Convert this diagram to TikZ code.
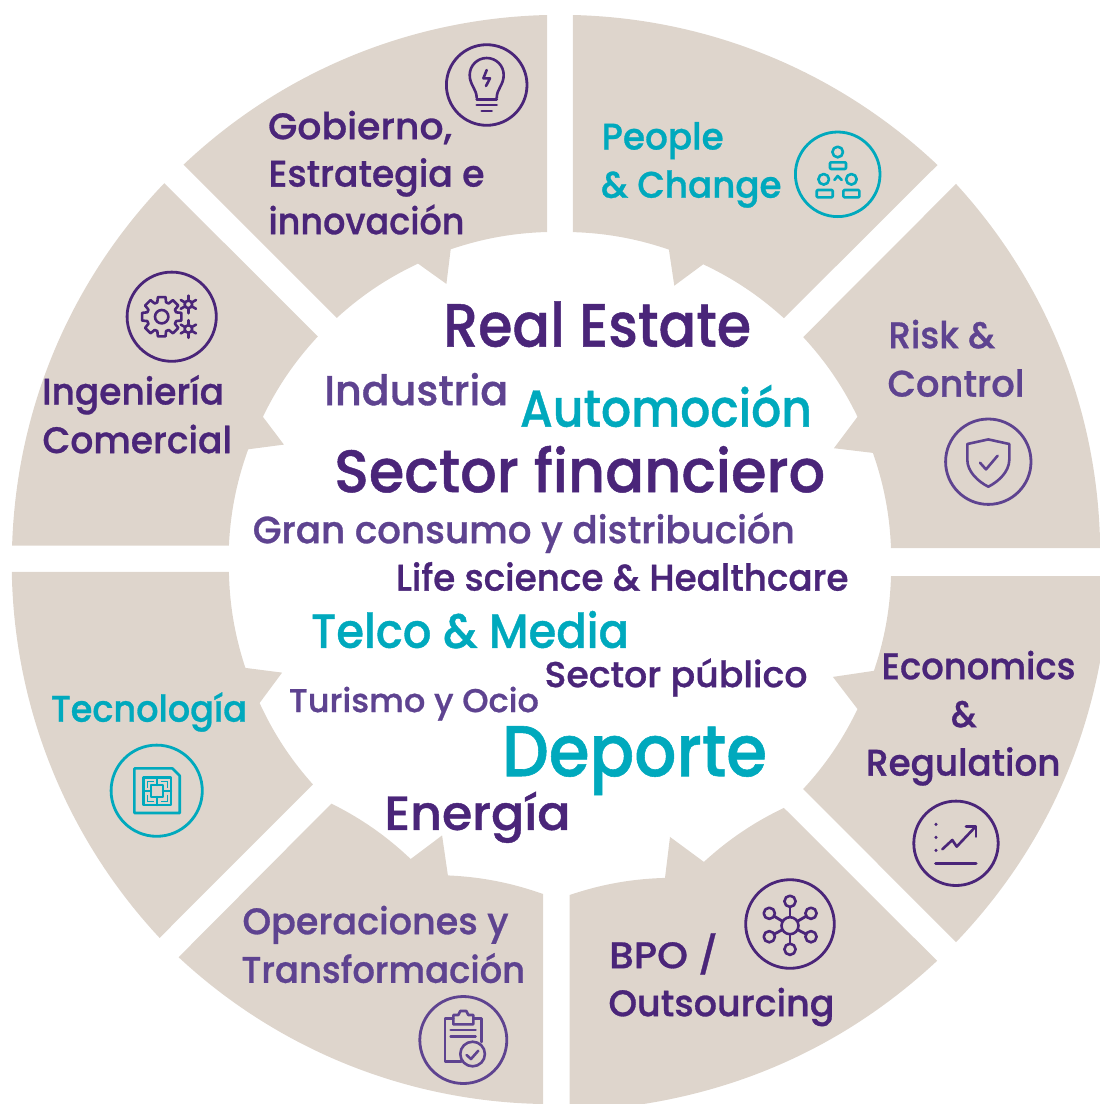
\documentclass[tikz,border=0pt]{standalone}
\usepackage{fontspec}
\setmainfont{Poppins Medium}[FakeBold=0.8]
\definecolor{dk}{HTML}{4A2579}
\definecolor{md}{HTML}{5E4390}
\definecolor{tl}{HTML}{00A9BD}
\definecolor{bg}{HTML}{DED5CC}
\newcommand{\fitw}[3]{\resizebox{\dimexpr#1pt+3pt\relax}{\height}{\fontsize{#2pt}{#2pt}\selectfont #3}}
\tikzset{
  seg/.style={fill=bg,draw=none},
  lbl/.style={anchor=base west,inner sep=0pt,outer sep=0pt,xshift=-1.5pt,yshift=-0.2pt},
  ring/.style={line width=2.8pt},
  ico/.style={line width=2.6pt,line join=round,line cap=round},
  oarc/.style={bend left=#1,looseness=.885},
  iarc/.style={bend right=#1,looseness=.885}
}
\begin{document}
\begin{tikzpicture}[x=1pt,y=-1pt]
\useasboundingbox (0,0) rectangle (1100,1104);
\clip (0,0) rectangle (1100,1104);
% segments
\path[seg] (183.6,164.6) to[oarc=21] (547,15) -- (547,232) to[iarc=8.5] (450.7,249.3) -- (446.4,283.9) -- (418,263.6) to[iarc=8.5] (336.8,317.9) -- cycle;
\path[seg] (12.1,545.7) to[oarc=21] (164.3,183.2) -- (317.9,336.4) to[iarc=8.5] (262.9,416.8) -- (283.9,444.6) -- (248.2,449.3) to[iarc=8.5] (228.9,545.7) -- cycle;
\path[seg] (159.6,937.9) to[oarc=21] (11.8,571.9) -- (228.9,571.9) to[iarc=8.5] (245.4,667.9) -- (282.1,672.6) -- (259.6,703) to[iarc=8.5] (312.9,784.4) -- cycle;
\path[seg] (543,1104) to[oarc=21] (178.6,957.2) -- (331.4,803.6) to[bend left=8.5,looseness=.885] (410.7,859) -- (442.1,835.4) -- (447.9,875.4) to[bend left=8.5,looseness=.885] (543,894) -- cycle;
\path[seg] (572.9,15) to[oarc=21] (937.5,165) -- (783.9,318.2) to[iarc=8.5] (703.2,264.3) -- (674.3,285.7) -- (668.9,249.6) to[iarc=8.5] (572.9,232.1) -- cycle;
\path[seg] (956,183.9) to[oarc=20.5] (1100,540) -- (1100,548.2) -- (891,548.2) to[iarc=8.5] (872.9,452.9) -- (833.9,448.2) -- (857.5,416.8) to[iarc=8.5] (803.2,337.1) -- cycle;
\path[seg] (1100,662) to[oarc=16.5] (956,942.2) -- (803.2,789) to[iarc=8.5] (857.5,709) -- (832.9,676.9) -- (873.9,670.8) to[iarc=8.5] (891,576.1) -- (1100,576.1) -- cycle;
\path[seg] (937.1,960.8) to[oarc=17] (643.6,1104) -- (569.6,1104) -- (569.6,895) to[bend left=8.5,looseness=.885] (665,877.9) -- (670,836.9) -- (703.9,861.9) to[bend left=8.5,looseness=.885] (783.9,807.9) -- cycle;
% segment labels
\node[lbl,text=dk] (g1) at (269.6,139) {\fitw{181}{37}{Gobierno,}};
\node[lbl,text=dk] (g2) at (270,186.4) {\fitw{213}{37}{Estrategia e}};
\node[lbl,text=dk] (g3) at (270,234) {\fitw{193}{37}{innovación}};
\node[lbl,text=dk] (i1) at (43.6,404.3) {\fitw{179}{37}{Ingeniería}};
\node[lbl,text=dk] (i2) at (44,452.9) {\fitw{186.5}{37}{Comercial}};
\node[lbl,text=tl] (t1) at (52.5,721.5) {\fitw{193}{37}{Tecnología}};
\node[lbl,text=md] (o1) at (244,934) {\fitw{263}{37}{Operaciones y}};
\node[lbl,text=md] (o2) at (243,982.6) {\fitw{280.6}{37}{Transformación}};
\node[lbl,text=tl] (p1) at (603.2,149.3) {\fitw{119}{37}{People}};
\node[lbl,text=tl] (p2) at (602.5,197.5) {\fitw{177.5}{37}{\& Change}};
\node[lbl,text=md] (r1) at (890,348) {\fitw{103.6}{37}{Risk \&}};
\node[lbl,text=md] (r2) at (889,396.4) {\fitw{134}{37}{Control}};
\node[lbl,text=dk] (e1) at (883,679) {\fitw{191}{37}{Economics}};
\node[lbl,text=dk] (e2) at (952.5,726.9) {\fitw{22.5}{37}{\&}};
\node[lbl,text=dk] (e3) at (867.5,775.4) {\fitw{191.5}{37}{Regulation}};
\node[lbl,text=dk] (b1) at (610.7,968) {\fitw{106}{37}{BPO /}};
\node[lbl,text=dk] (b2) at (610,1016) {\fitw{223}{37}{Outsourcing}};
% centre words
\node[lbl,text=dk] (c1) at (444.6,346.4) {\fitw{305}{61}{Real Estate}};
\node[lbl,text=md] (c2) at (325.7,405) {\fitw{181}{42}{Industria}};
\node[lbl,text=tl] (c3) at (521.4,426.5) {\fitw{289}{52}{Automoción}};
\node[lbl,text=dk] (c4) at (335.7,492) {\fitw{488}{60}{Sector financiero}};
\node[lbl,text=md] (c5) at (254.3,543) {\fitw{539}{38}{Gran consumo y distribución}};
\node[lbl,text=dk] (c6) at (397.5,590.4) {\fitw{449.5}{37}{Life science \& Healthcare}};
\node[lbl,text=tl] (c7) at (312.5,647.6) {\fitw{315}{48}{Telco \& Media}};
\node[lbl,text=dk] (c8) at (546,686.9) {\fitw{260}{36}{Sector público}};
\node[lbl,text=md] (c9) at (290.4,711.9) {\fitw{247}{33}{Turismo y Ocio}};
\node[lbl,text=tl] (c10) at (503.5,776) {\fitw{262}{72}{Deporte}};
\node[lbl,text=dk] (c11) at (386,829.7) {\fitw{183}{48}{Energía}};
% bulb
\begin{scope}[shift={(486.7,85)}]
\draw[ring,dk] (0,0) circle[radius=40.3];
\draw[ico,dk] (-10,13) .. controls (-10,4) and (-17,0) .. (-17,-10) .. controls (-17,-19.4) and (-9.4,-27) .. (0,-27) .. controls (9.4,-27) and (17,-19.4) .. (17,-10) .. controls (17,0) and (10,4) .. (10,13);
\draw[ico,dk] (-10,14.5) -- (10,14.5) (-10,20) -- (10,20) (-5,26) -- (5,26);
\draw[ico,dk] (0,-15) -- (-3.3,-6.7) -- (3.3,-6.7) -- (-0.7,1);
\end{scope}
% people
\begin{scope}[shift={(837.7,174.3)}]
\draw[ring,tl] (0,0) circle[radius=42.3];
\draw[ico,tl] (0,-22.3) circle[radius=5.3] (-14,5) circle[radius=5.3] (13.7,5) circle[radius=5.3];
\draw[ico,tl,rounded corners=1pt] (-7.7,-12) rectangle (8.3,-5.3) (-21,15.7) rectangle (-5,23) (5.7,15.7) rectangle (21.7,23);
\draw[ico,tl] (-3.3,5.7) -- (0,1.7) -- (4,5.7);
\end{scope}
% gears
\begin{scope}[shift={(171.7,316.7)}]
\draw[ring,dk] (0,0) circle[radius=44.6];
\begin{scope}[shift={(-10,0)}]
\draw[ico,dk] (-11:20) \foreach \a in {0,45,...,315} { -- (\a-11:20) -- (\a+11:20) -- (\a+17:15) -- (\a+28:15) } -- cycle;
\draw[ico,dk] (0,0) circle[radius=6.7];
\end{scope}
\foreach \cy in {-12.3,12.3} {
\begin{scope}[shift={(16.7,\cy)}]
\draw[ico,dk] (0,0) circle[radius=3.8];
\foreach \a in {0,60,...,300} \draw[ico,dk] (\a+30:3.8) -- (\a+30:8.8);
\end{scope}}
\end{scope}
% shield
\begin{scope}[shift={(988.3,461.7)}]
\draw[ring,md] (0,0) circle[radius=42.7];
\draw[ico,md] (0,-22.3) -- (21,-17.7) -- (21,-2) .. controls (21,10) and (10,20) .. (0,25) .. controls (-10,20) and (-21,10) .. (-21,-2) -- (-21,-17.7) -- cycle;
\draw[ico,md] (-8.3,1) -- (-2.3,7.7) -- (9.3,-6);
\end{scope}
% chip
\begin{scope}[shift={(156.7,790.7)}]
\draw[ring,tl] (0,0) circle[radius=45.6];
\draw[ico,tl] (-22.3,-22.3) -- (15.7,-22.3) -- (23,-15) -- (23,22.3) -- (-22.3,22.3) -- cycle;
\draw[ico,tl] (-13.3,-13.3) rectangle (14.3,14.3) (-5.7,-5.7) rectangle (6.3,6.3);
\draw[ico,tl] (0.3,-13.3) -- (0.3,-5.7) (0.3,6.3) -- (0.3,14.3) (-13.3,0.3) -- (-5.7,0.3) (6.3,0.3) -- (14.3,0.3);
\draw[line width=1.4pt,tl] (-9.5,-3) -- (-9.5,-9.5) -- (-3,-9.5) (4,-9.5) -- (10.5,-9.5) -- (10.5,-3) (10.5,4) -- (10.5,10.5) -- (4,10.5) (-3,10.5) -- (-9.5,10.5) -- (-9.5,4);
\end{scope}
% chart
\begin{scope}[shift={(956,843.3)}]
\draw[ring,dk] (0,0) circle[radius=42.2];
\fill[dk] (-20,-19) circle[radius=1.7] (-20,-6) circle[radius=1.7] (-20,7) circle[radius=1.7];
\draw[ico,dk] (-13.7,6) -- (-3.7,-3.3) -- (0.7,3.3) -- (18,-15);
\draw[ico,dk] (10,-16.7) -- (20,-16.7) -- (20,-6.7);
\draw[ico,dk,line width=3pt] (-20.3,19.7) -- (20,19.7);
\end{scope}
% hub
\begin{scope}[shift={(790,924)}]
\draw[ring,dk] (0,0) circle[radius=44.3];
\foreach \x/\y in {0/-22.7,0/25.3,-20.7/-10.7,21/-10.7,-20.7/12.7,21/12.7} {
  \draw[ico,dk,line width=2.8pt] (0,1.7) -- (\x,\y);
}
\draw[ico,dk,fill=bg] (0,1.7) circle[radius=8.5];
\foreach \x/\y in {0/-22.7,0/25.3,-20.7/-10.7,21/-10.7,-20.7/12.7,21/12.7} {
  \draw[ico,dk,fill=bg] (\x,\y) circle[radius=5.6];
}
\end{scope}
% clipboard
\begin{scope}[shift={(463.3,1040)}]
\draw[ring,md] (0,0) circle[radius=43.5];
\draw[ico,md] (-10,-21.7) -- (-18.3,-21.7) -- (-18.3,21.7) -- (-2,21.7) (10,-21.7) -- (18.3,-21.7) -- (18.3,2);
\draw[ico,md] (-10,-25) -- (-10,-15.7) -- (10,-15.7) -- (10,-25) -- (5,-25) -- (3,-29) -- (-3,-29) -- (-5,-25) -- cycle;
\draw[ico,md] (-12.7,-10) -- (12.3,-10) (-12.7,-3.3) -- (12.3,-3.3);
\draw[ico,md] (9.3,14) circle[radius=12.3];
\draw[ico,md] (3.3,15) -- (7.7,19) -- (15,10.7);
\end{scope}
\end{tikzpicture}
\end{document}
